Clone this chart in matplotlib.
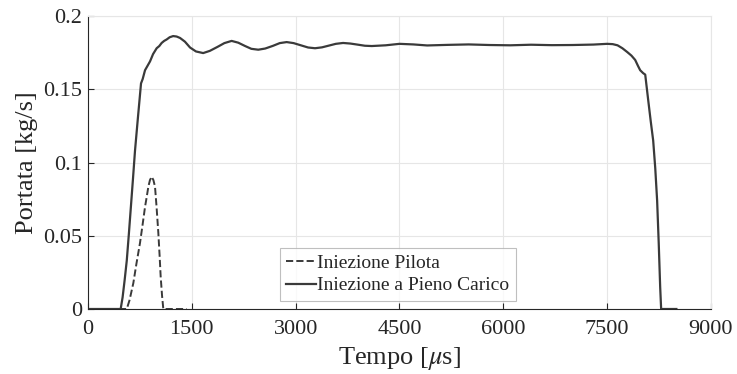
import matplotlib
matplotlib.use("Agg")
import matplotlib.pyplot as plt

# Full-load injection (time in microseconds, flow in kg/s)
full_t = [0, 472, 500, 530, 560, 590, 620, 650, 679, 720, 745, 766, 790, 824, 860, 896,
          940, 992, 1030, 1064, 1100, 1137, 1180, 1230, 1280, 1330, 1400, 1474, 1560,
          1664, 1760, 1870, 1970, 2075, 2170, 2270, 2360, 2460, 2560, 2670, 2770, 2870,
          2970, 3075, 3180, 3280, 3380, 3480, 3580, 3685, 3790, 3890, 4000, 4100, 4300,
          4500, 4700, 4900, 5200, 5500, 5800, 6100, 6400, 6700, 7000, 7300, 7500, 7580,
          7650, 7720, 7790, 7850, 7905, 7945, 7977, 8020, 8050, 8092, 8130, 8165, 8195,
          8222, 8245, 8266, 8280, 8500]
full_q = [0, 0, 0.008, 0.020, 0.033, 0.051, 0.070, 0.089, 0.108, 0.130, 0.143, 0.154,
          0.157, 0.163, 0.166, 0.169, 0.174, 0.178, 0.1795, 0.1816, 0.183, 0.184, 0.1855,
          0.1863, 0.186, 0.185, 0.1825, 0.1785, 0.1758, 0.1747, 0.1762, 0.1789, 0.1815,
          0.183, 0.1818, 0.1795, 0.1776, 0.177, 0.1778, 0.1796, 0.1815, 0.1822, 0.1815,
          0.180, 0.1785, 0.178, 0.1786, 0.1798, 0.181, 0.1816, 0.1812, 0.1805, 0.1797,
          0.1795, 0.180, 0.181, 0.1806, 0.1799, 0.1803, 0.1806, 0.1802, 0.1800, 0.1804,
          0.1801, 0.1802, 0.1805, 0.181, 0.1808, 0.180, 0.178, 0.1754, 0.173, 0.170,
          0.166, 0.163, 0.161, 0.160, 0.143, 0.128, 0.115, 0.096, 0.074, 0.045, 0.015,
          0, 0]

# Pilot injection
pilot_t = [0, 560, 600, 655, 700, 751, 790, 824, 850, 872, 895, 920, 945, 968, 990,
           1016, 1035, 1050, 1070, 1088, 1426]
pilot_q = [0, 0, 0.006, 0.0177, 0.031, 0.045, 0.058, 0.0697, 0.077, 0.0835, 0.088,
           0.0903, 0.088, 0.0835, 0.070, 0.052, 0.036, 0.022, 0.009, 0, 0]

xticks = [0, 1500, 3000, 4500, 6000, 7500, 9000]
yticks = [0, 0.05, 0.1, 0.15, 0.2]
ytick_labels = ["0", "0.05", "0.1", "0.15", "0.2"]

plt.rcParams['font.family'] = ['Liberation Serif', 'DejaVu Serif']
plt.rcParams['mathtext.fontset'] = 'stix'

fig = plt.figure(figsize=(7.37, 3.74), dpi=100)
ax = fig.add_axes([0.1194, 0.1738, 0.8453, 0.7834])

line_color = '#3a3a3a'
ax.plot(pilot_t, pilot_q, linestyle='--', color=line_color, lw=1.4, label='Iniezione Pilota')
ax.plot(full_t, full_q, linestyle='-', color=line_color, lw=1.6, label='Iniezione a Pieno Carico')

ax.set_xlim(0, 9000)
ax.set_ylim(0, 0.2)
ax.set_xticks(xticks)
ax.set_yticks(yticks)
ax.set_yticklabels(ytick_labels)
ax.grid(True, color='#e6e6e6', lw=0.8)
ax.set_axisbelow(True)
ax.tick_params(direction='in', length=4, labelsize=16, colors='#262626', top=False, right=False)
ax.tick_params(axis='x', pad=8)
ax.tick_params(axis='y', pad=4)
for s in ['left', 'bottom']:
    ax.spines[s].set_color('#262626')
    ax.spines[s].set_linewidth(0.8)
for s in ['top', 'right']:
    ax.spines[s].set_color('#e6e6e6')
    ax.spines[s].set_linewidth(0.8)

ax.set_xlabel(r'Tempo [$\mu$s]', fontsize=19, color='#262626', labelpad=4)
ax.set_ylabel('Portata [kg/s]', fontsize=19, color='#262626', labelpad=4)

leg = ax.legend(loc='lower center', bbox_to_anchor=(0.497, 0.02), fontsize=14, frameon=True,
                fancybox=False, edgecolor='#b0b0b0', handlelength=1.5, handletextpad=0.05,
                borderpad=0.35, labelspacing=0.25, borderaxespad=0.1)
leg.get_frame().set_linewidth(0.8)
for t in leg.get_texts():
    t.set_color('#262626')

fig.savefig('out.png', dpi=100)
